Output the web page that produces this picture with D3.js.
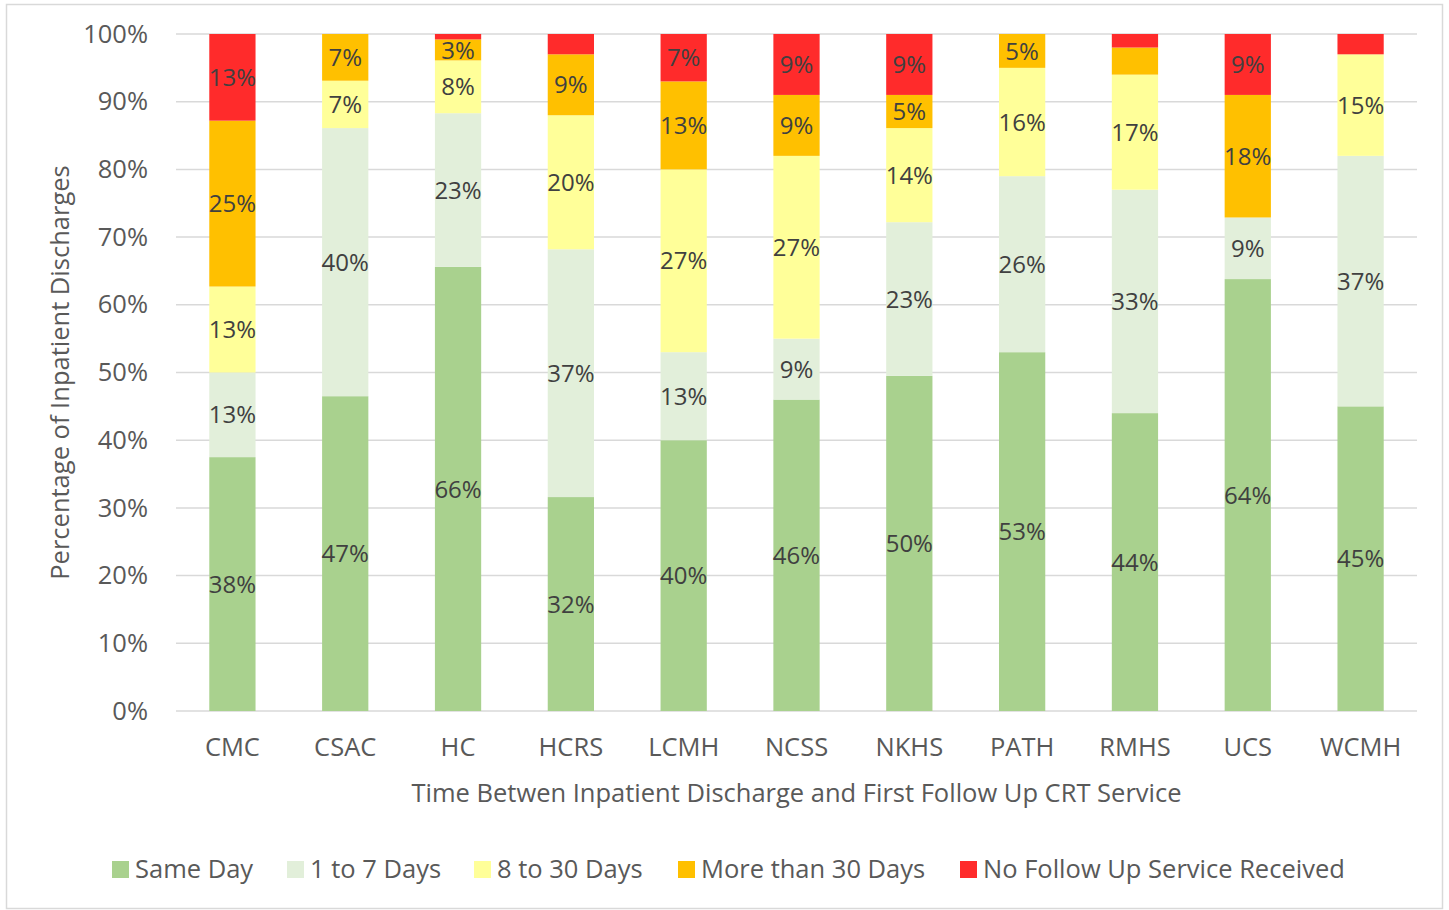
<!DOCTYPE html>
<html>
<head>
<meta charset="utf-8">
<script src="https://cdn.jsdelivr.net/npm/d3@7"></script>
<style>
  body { margin: 0; background: #fff; }
  text { font-family: "Open Sans", Lato, sans-serif; }
</style>
</head>
<body>
<div id="chart"></div>
<script>
// categories and series (percent of inpatient discharges)
const categories = ['CMC', 'CSAC', 'HC', 'HCRS', 'LCMH', 'NCSS', 'NKHS', 'PATH', 'RMHS', 'UCS', 'WCMH'];
const seriesNames = ['Same Day', '1 to 7 Days', '8 to 30 Days', 'More than 30 Days', 'No Follow Up Service Received'];
const sameDay   = [37.5, 46.5, 65.6, 31.6, 40, 46, 49.5, 53, 44, 63.8, 45];
const oneTo7    = [12.5, 39.6, 22.7, 36.6, 13, 9, 22.7, 26, 33, 9.1, 37];
const eightTo30 = [12.7, 7.0, 7.8, 19.8, 27, 27, 13.9, 16, 17, 0, 15];
const over30    = [24.5, 6.9, 3.1, 9, 13, 9, 4.9, 5, 4, 18.1, 0];
const noFollow  = [12.8, 0, 0.8, 3, 7, 9, 9, 0, 2, 9, 3];
const yTicks = [0, 10, 20, 30, 40, 50, 60, 70, 80, 90, 100];
// data labels that were left off in the original
const hiddenLabels = ['HC|No Follow Up Service Received', 'HCRS|No Follow Up Service Received',
  'RMHS|More than 30 Days', 'RMHS|No Follow Up Service Received', 'WCMH|No Follow Up Service Received'];

const colors = ['#A9D18E', '#E2EFDA', '#FFFF99', '#FFC000', '#FF2B2B'];

const width = 1449, height = 910;
const margin = { top: 34, right: 32, bottom: 199, left: 176 };
const fontSize = '25.5px';

const svg = d3.select('#chart').append('svg')
    .attr('width', width)
    .attr('height', height);

// outer frame
svg.append('rect')
    .attr('x', 6.5).attr('y', 4.5)
    .attr('width', 1436).attr('height', 904)
    .attr('fill', '#fff')
    .attr('stroke', '#D9D9D9')
    .attr('stroke-width', 1.5);

const rows = categories.map((c, i) => ({
    cat: c,
    'Same Day': sameDay[i],
    '1 to 7 Days': oneTo7[i],
    '8 to 30 Days': eightTo30[i],
    'More than 30 Days': over30[i],
    'No Follow Up Service Received': noFollow[i]
}));

const stack = d3.stack().keys(seriesNames)(rows);

const x = d3.scaleBand()
    .domain(categories)
    .range([margin.left, width - margin.right])
    .paddingInner(0.59)
    .paddingOuter(0.295);

const y = d3.scaleLinear()
    .domain([0, 100])
    .range([height - margin.bottom, margin.top]);

// gridlines
svg.append('g')
    .selectAll('line')
    .data(yTicks)
    .enter().append('line')
    .attr('x1', margin.left)
    .attr('x2', width - margin.right)
    .attr('y1', d => y(d))
    .attr('y2', d => y(d))
    .attr('stroke', '#D9D9D9')
    .attr('stroke-width', 1.5);

// y axis labels
const yAxis = svg.append('g')
    .attr('transform', `translate(${margin.left - 28},0)`)
    .call(d3.axisLeft(y).tickValues(yTicks).tickFormat(d => d + '%').tickSize(0).tickPadding(0));
yAxis.select('.domain').remove();
yAxis.selectAll('text')
    .attr('fill', '#595959')
    .style('font-size', fontSize);

// x axis labels
const xAxis = svg.append('g')
    .attr('transform', `translate(0,${height - margin.bottom})`)
    .call(d3.axisBottom(x).tickSize(0).tickPadding(27));
xAxis.select('.domain').remove();
xAxis.selectAll('text')
    .attr('fill', '#595959')
    .style('font-size', fontSize);

// bars
const layer = svg.append('g')
    .selectAll('g')
    .data(stack)
    .enter().append('g')
    .attr('fill', (d, i) => colors[i]);

layer.selectAll('rect')
    .data(d => d.map(p => ({ p, key: d.key })))
    .enter().append('rect')
    .attr('x', d => x(d.p.data.cat))
    .attr('width', x.bandwidth())
    .attr('y', d => y(d.p[1]))
    .attr('height', d => y(d.p[0]) - y(d.p[1]));

// data labels
layer.selectAll('text')
    .data(d => d.map(p => ({ p, key: d.key })).filter(d => {
        const v = d.p[1] - d.p[0];
        return v > 0.5 && !hiddenLabels.includes(d.p.data.cat + '|' + d.key);
    }))
    .enter().append('text')
    .attr('x', d => x(d.p.data.cat) + x.bandwidth() / 2)
    .attr('y', d => (y(d.p[0]) + y(d.p[1])) / 2)
    .attr('dy', '0.36em')
    .attr('text-anchor', 'middle')
    .attr('fill', '#404040')
    .style('font-size', '24px')
    .text(d => Math.round(d.p[1] - d.p[0]) + '%');

// axis titles
svg.append('text')
    .attr('x', (margin.left + width - margin.right) / 2)
    .attr('y', 793)
    .attr('dy', '0.36em')
    .attr('text-anchor', 'middle')
    .attr('fill', '#595959')
    .style('font-size', fontSize)
    .text('Time Betwen Inpatient Discharge and First Follow Up CRT Service');

svg.append('text')
    .attr('transform', `translate(60,${(margin.top + height - margin.bottom) / 2}) rotate(-90)`)
    .attr('dy', '0.36em')
    .attr('text-anchor', 'middle')
    .attr('fill', '#595959')
    .style('font-size', fontSize)
    .text('Percentage of Inpatient Discharges');

// legend
const legendX = [112, 287, 474, 678, 960];
const legend = svg.append('g')
    .selectAll('g')
    .data(seriesNames)
    .enter().append('g')
    .attr('transform', (d, i) => `translate(${legendX[i]},869)`);

legend.append('rect')
    .attr('x', 0).attr('y', -8)
    .attr('width', 17).attr('height', 17)
    .attr('fill', (d, i) => colors[i]);

legend.append('text')
    .attr('x', 23)
    .attr('dy', '0.36em')
    .attr('fill', '#595959')
    .style('font-size', fontSize)
    .text(d => d);
</script>
</body>
</html>
